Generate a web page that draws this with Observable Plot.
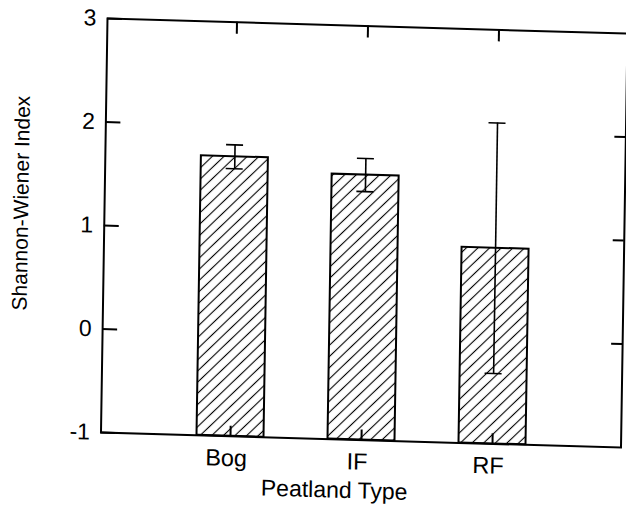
<!DOCTYPE html>
<html><head><meta charset="utf-8">
<script src="https://cdn.jsdelivr.net/npm/d3@7"></script>
<script src="https://cdn.jsdelivr.net/npm/@observablehq/plot@0.6"></script>
<style>
html,body{margin:0;padding:0;background:#fff;overflow:hidden;}
#chart svg{transform-origin:107px 18px;transform:matrix(1,0.029,-0.0157,1,0,0);}
</style></head><body><div id="chart"></div>
<script>
const categories = ["Bog", "IF", "RF"];
const means = [1.70, 1.56, 0.89];
const errors = [0.115, 0.16, 1.21];
const yTicks = [-1, 0, 1, 2, 3];
const rightTicks = [0, 1, 2];
const xTitle = "Peatland Type";
const yTitle = "Shannon-Wiener Index";

const data = categories.map((c, i) => ({type: c, mean: means[i], lo: means[i] - errors[i], hi: means[i] + errors[i]}));

const W = 520, H = 414;
const font = "'Liberation Sans', Arial, Helvetica, sans-serif";

const svg = Plot.plot({
  width: 627,
  height: 510,
  marginLeft: 107,
  marginRight: 0,
  marginTop: 18,
  marginBottom: 78,
  style: {fontFamily: font, fontSize: "23px", background: "white", overflow: "visible", maxWidth: "none", color: "black"},
  x: {domain: categories, paddingInner: 0.49, paddingOuter: 0.72, align: 0.5},
  y: {domain: [-1, 3]},
  marks: [
    Plot.barY(data, {x: "type", y1: () => -1, y2: "mean", fill: "url(#hatch)", stroke: "black", strokeWidth: 2}),
    Plot.ruleX(data, {x: "type", y1: "lo", y2: "hi", stroke: "black", strokeWidth: 1.6}),
    Plot.tickY(data, {x: "type", y: "lo", stroke: "black", strokeWidth: 1.6, insetLeft: 25, insetRight: 25}),
    Plot.tickY(data, {x: "type", y: "hi", stroke: "black", strokeWidth: 1.6, insetLeft: 25, insetRight: 25}),
    Plot.frame({stroke: "black", strokeWidth: 2}),
    Plot.tickY(yTicks, {y: d => d, stroke: "black", strokeWidth: 2, insetRight: W - 15}),
    Plot.tickY(rightTicks, {y: d => d, stroke: "black", strokeWidth: 2, insetLeft: W - 11}),
    Plot.tickX(categories, {x: d => d, stroke: "black", strokeWidth: 2, insetBottom: H - 12}),
    Plot.tickX(categories, {x: d => d, stroke: "black", strokeWidth: 2, insetTop: H - 10}),
    Plot.axisY(yTicks, {tickSize: 0, tickPadding: 11, tickFormat: d => String(d), label: null, fontSize: 23}),
    Plot.axisX(categories, {tickSize: 0, tickPadding: 13, label: null, fontSize: 23.5, dx: -4}),
    Plot.text([xTitle], {frameAnchor: "bottom", textAnchor: "middle", lineAnchor: "top", dy: 42, dx: -26, fontSize: 23, fill: "black"}),
    Plot.text([yTitle], {frameAnchor: "left", rotate: -90, textAnchor: "middle", lineAnchor: "middle", dx: -83, dy: -20, fontSize: 21, fill: "black"})
  ]
});

const defs = d3.select(svg).insert("defs", ":first-child");
const pat = defs.append("pattern")
  .attr("id", "hatch")
  .attr("patternUnits", "userSpaceOnUse")
  .attr("width", 8).attr("height", 8)
  .attr("patternTransform", "rotate(45)");
pat.append("rect").attr("width", 8).attr("height", 8).attr("fill", "white");
pat.append("line").attr("x1", 4).attr("y1", 0).attr("x2", 4).attr("y2", 8)
  .attr("stroke", "black").attr("stroke-width", 1.1);

document.getElementById("chart").appendChild(svg);
</script>
</body></html>
